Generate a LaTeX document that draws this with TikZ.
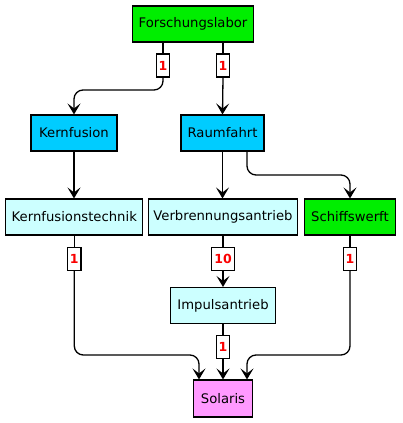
\documentclass[tikz,border=0pt]{standalone}
\usepackage{fontspec}
\setmainfont{DejaVu Sans}
\usetikzlibrary{arrows.meta,calc}
\definecolor{cgreen}{RGB}{0,238,0}
\definecolor{cblue}{RGB}{0,204,255}
\definecolor{ccyan}{RGB}{204,255,255}
\definecolor{cpink}{RGB}{255,153,255}
\definecolor{cred}{RGB}{250,0,0}
\tikzset{
  box/.style={draw=black, line width=1.1pt, minimum height=36pt, inner sep=0pt, font=\fontsize{13.2}{15}\selectfont},
  lab/.style={draw=black, fill=white, line width=1.1pt, minimum height=23pt, minimum width=13pt, inner xsep=2.4pt, inner ysep=0pt, text=cred, font=\fontsize{12.5}{14}\selectfont\bfseries},
  arr/.style={line width=1.3pt, -{Stealth[length=11pt,width=13pt,inset=5pt]}},
  ln/.style={line width=1.3pt},
}
\begin{document}
\begin{tikzpicture}[x=1pt,y=-1pt]
\useasboundingbox (0,0) rectangle (402,423);
\node[box, fill=cgreen, minimum width=121pt] (F) at (193,24) {Forschungslabor};
\node[box, fill=cblue, minimum width=86pt] (K) at (74,133) {Kernfusion};
\node[box, fill=cblue, minimum width=83pt] (R) at (222.5,133) {Raumfahrt};
\node[box, fill=ccyan, minimum width=137pt] (KT) at (74.3,217) {Kernfusionstechnik};
\node[box, fill=ccyan, minimum width=149pt] (V) at (223,217) {Verbrennungsantrieb};
\node[box, fill=cgreen, minimum width=91pt] (S) at (350,217) {Schiffswerft};
\node[box, fill=ccyan, minimum width=105pt] (I) at (223,305.5) {Impulsantrieb};
\node[box, fill=cpink, minimum width=59pt, minimum height=37pt] (So) at (223,398.5) {Solaris};

\node[lab] (l1) at (163,65.5) {1};
\node[lab] (l2) at (223,65.5) {1};
\node[lab] (l3) at (74.3,258.7) {1};
\node[lab] (l4) at (223,258.7) {10};
\node[lab] (l5) at (350,258.7) {1};
\node[lab] (l6) at (223,347) {1};

\coordinate (b1) at (0,90);
\coordinate (b2) at (0,175);
\coordinate (b3) at (0,355);
\coordinate (rs) at ($(R.south)+(24.5,0)$);
\coordinate (sl) at ($(So.north)+(-24,0)$);
\coordinate (sr) at ($(So.north)+(24,0)$);

% Forschungslabor -> Kernfusion
\draw[ln] (F.south -| l1) -- (l1.north);
\draw[arr, rounded corners=9pt] (l1.south) -- (l1.south |- b1) -- (K.north |- b1) -- (K.north);
% Forschungslabor -> Raumfahrt
\draw[ln] (F.south -| l2) -- (l2.north);
\draw[arr] (l2.south) -- (R.north);
% Kernfusion -> Kernfusionstechnik
\draw[arr] (K.south) -- (KT.north -| K.south);
% Raumfahrt -> Verbrennungsantrieb
\draw[arr] (R.south) -- (V.north -| R.south);
% Raumfahrt -> Schiffswerft
\draw[arr, rounded corners=9pt] (rs) -- (rs |- b2) -- (S.north |- b2) -- (S.north);
% Verbrennungsantrieb -> Impulsantrieb
\draw[ln] (V.south) -- (l4.north);
\draw[arr] (l4.south) -- (I.north);
% Impulsantrieb -> Solaris
\draw[ln] (I.south) -- (l6.north);
\draw[arr] (l6.south) -- (So.north);
% Kernfusionstechnik -> Solaris
\draw[ln] (KT.south) -- (l3.north);
\draw[arr, rounded corners=9pt] (l3.south) -- (l3.south |- b3) -- (sl |- b3) -- (sl);
% Schiffswerft -> Solaris
\draw[ln] (S.south) -- (l5.north);
\draw[arr, rounded corners=9pt] (l5.south) -- (l5.south |- b3) -- (sr |- b3) -- (sr);
\end{tikzpicture}
\end{document}
